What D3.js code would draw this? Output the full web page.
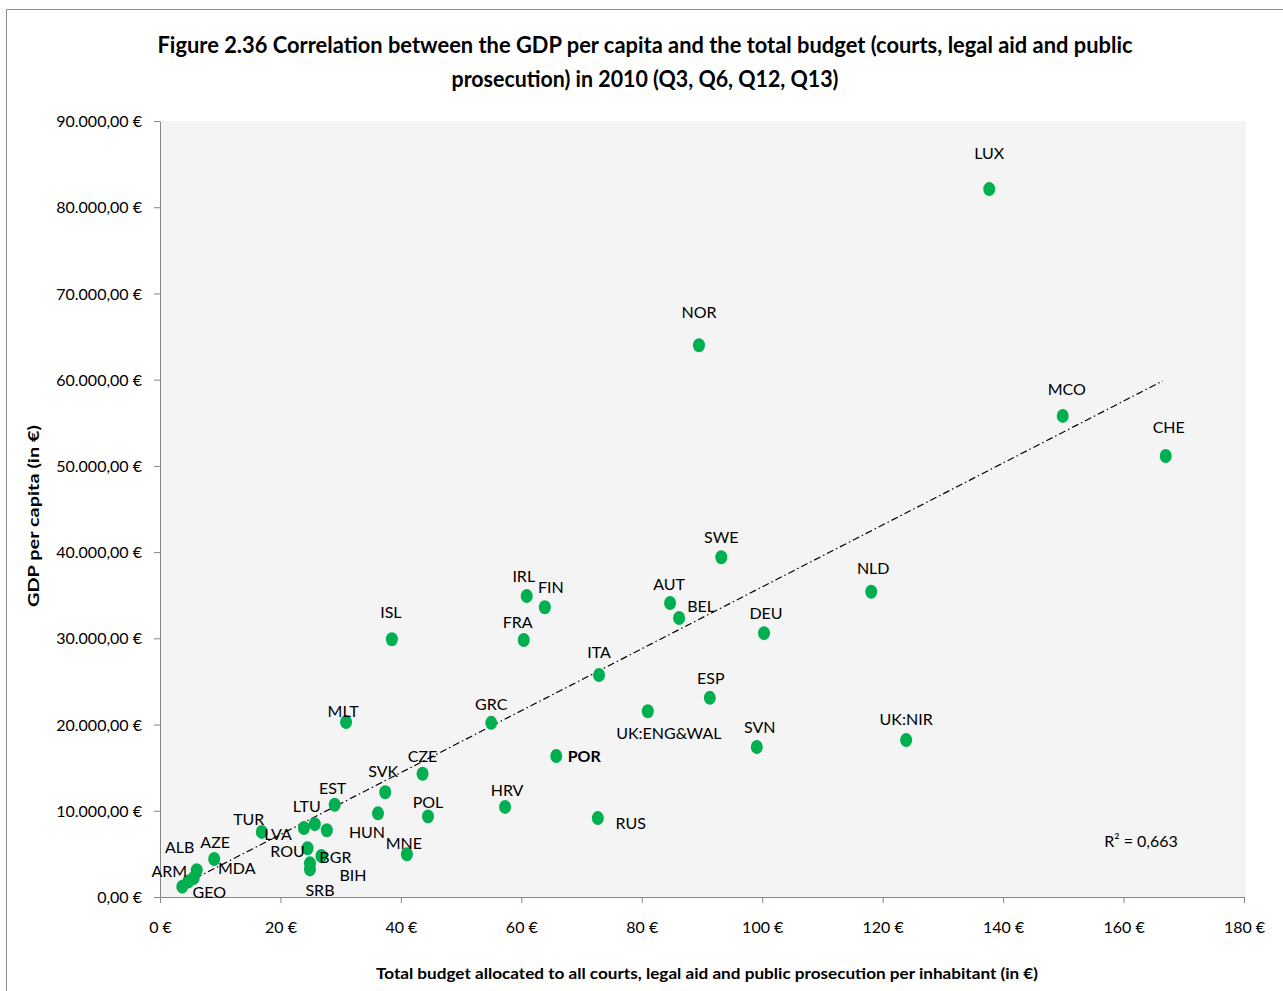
<!DOCTYPE html>
<html><head><meta charset="utf-8">
<script src="https://cdn.jsdelivr.net/npm/d3@7"></script>
<style>
html,body{margin:0;padding:0;background:#fff;}
svg text{font-family:Lato, "Liberation Sans", sans-serif;fill:#000;}
</style></head>
<body>
<svg id="chart" width="1283" height="991"></svg>
<script>
// ---- data ----
const countries = ["LUX","NOR","MCO","CHE","SWE","NLD","IRL","FIN","AUT","BEL","DEU","ISL","FRA","ITA","ESP","UK:ENG&WAL","GRC","MLT","UK:NIR","SVN","POR","CZE","SVK","EST","HRV","HUN","POL","RUS","LTU","LVA","","TUR","ROU","BGR","BIH","SRB","MNE","AZE","ALB","ARM","GEO","MDA"];
const budgetPerInhabitant = [137.7,89.5,149.9,167.0,93.2,118.1,60.9,63.9,84.7,86.2,100.3,38.5,60.4,72.9,91.3,81.0,55.0,30.9,123.9,99.1,65.8,43.6,37.4,29.0,57.3,36.2,44.5,72.7,25.7,23.9,27.7,16.9,24.5,26.8,24.9,24.9,41.0,9.0,5.6,3.7,4.7,6.1];
const gdpPerCapita = [82100,64000,55800,51150,39400,35400,34900,33600,34100,32350,30600,29900,29800,25750,23100,21550,20200,20300,18200,17400,16350,14300,12150,10700,10450,9700,9350,9150,8450,8000,7750,7550,5650,4750,3900,3200,4950,4400,2200,1200,1800,3100];
const trendX = [3.7,166.5];
const trendY = [1390,59850];
const rSquaredLabel = "R² = 0,663";
const xTicks = [0,20,40,60,80,100,120,140,160,180];
const yTicks = [0,10000,20000,30000,40000,50000,60000,70000,80000,90000];
const titleLines = ["Figure 2.36 Correlation  between the GDP per capita and the total budget (courts, legal aid and public","prosecution) in 2010 (Q3, Q6, Q12, Q13)"];
const xTitle = "Total budget allocated  to all courts, legal aid and public prosecution per inhabitant  (in €)";
const yTitle = "GDP per capita (in €)";

// ---- label offsets (layout) ----
const labelOffset = {
 "LUX":[0,-36],"NOR":[0,-33],"MCO":[4,-26],"CHE":[3,-29],"SWE":[0,-20],"NLD":[2,-23],
 "IRL":[-3,-20],"FIN":[6,-20],"AUT":[-1,-19],"BEL":[22,-12],"DEU":[2,-20],"ISL":[-1,-27],
 "FRA":[-6,-18],"ITA":[0,-23],"ESP":[1,-19],"UK:ENG&WAL":[21,22],"GRC":[0,-18],"MLT":[-3,-11],
 "UK:NIR":[0,-21],"SVN":[3,-20],"POR":[28,0],"CZE":[0,-17],"SVK":[-2,-21],"EST":[-2,-16],
 "HRV":[2,-16],"HUN":[-11,19],"POL":[0,-14],"RUS":[33,5],"LTU":[-8,-18],"LVA":[-26,6],
 "TUR":[-13,-13],"ROU":[-20,3],"BGR":[14,1],"BIH":[43,12],"SRB":[10,21],"MNE":[-3,-11],
 "AZE":[1,-17],"ALB":[-14,-31],"ARM":[-13,-15],"GEO":[21,11],"MDA":[40,-2]
};

const svg = d3.select("#chart");
const W = 1283, H = 991;
const plot = {left:160, right:1244, top:121, bottom:897};

const loc = d3.formatLocale({decimal:",", thousands:".", grouping:[3], currency:[""," €"]});
const fy = v => loc.format(",.2f")(v) + " €";
const fx = v => v + " €";

const x = d3.scaleLinear().domain([0,180]).range([plot.left, plot.right]);
const y = d3.scaleLinear().domain([0,90000]).range([plot.bottom, plot.top]);

// outer frame
svg.append("path").attr("d", `M6.5,${H} V9.5 H${W}`).attr("fill","none").attr("stroke","#8c8c8c").attr("stroke-width",1);

// plot background
svg.append("rect").attr("x",plot.left).attr("y",plot.top).attr("width",1246-plot.left).attr("height",plot.bottom-plot.top).attr("fill","#f4f4f4");

// titles
const tt = svg.append("g").attr("font-weight","bold").attr("font-size",22).attr("text-anchor","middle");
tt.append("text").attr("x",645).attr("y",53).attr("textLength",975).attr("lengthAdjust","spacingAndGlyphs").text(titleLines[0]);
tt.append("text").attr("x",645).attr("y",87).attr("textLength",387).attr("lengthAdjust","spacingAndGlyphs").text(titleLines[1]);

svg.append("text").attr("x",707).attr("y",979).attr("text-anchor","middle").attr("font-weight","bold").attr("font-size",16)
  .attr("textLength",662).attr("lengthAdjust","spacingAndGlyphs").text(xTitle);
svg.append("text").attr("transform","translate(39,516) rotate(-90)").attr("text-anchor","middle").attr("font-weight","bold").attr("font-size",15)
  .attr("textLength",182).attr("lengthAdjust","spacingAndGlyphs").text(yTitle);

// axes
const xAxis = d3.axisBottom(x).tickValues(xTicks).tickFormat(fx).tickSize(6).tickSizeOuter(0).tickPadding(19);
const yAxis = d3.axisLeft(y).tickValues(yTicks).tickFormat(fy).tickSize(6).tickSizeOuter(0).tickPadding(12);
const gx = svg.append("g").attr("transform",`translate(0,${plot.bottom})`).call(xAxis);
const gy = svg.append("g").attr("transform",`translate(${plot.left},0)`).call(yAxis);
[gx,gy].forEach(g=>{
  g.selectAll("path,line").attr("stroke","#868686");
  g.selectAll("text").attr("font-size",16).attr("fill","#000").style("font-family","Lato, 'Liberation Sans', sans-serif");
});
gy.selectAll("text").attr("dy","0.35em");

// trendline
svg.append("line")
  .attr("x1",x(trendX[0])).attr("y1",y(trendY[0])).attr("x2",x(trendX[1])).attr("y2",y(trendY[1]))
  .attr("stroke","#000").attr("stroke-width",1.2).attr("stroke-dasharray","7,3,1.5,3");

// points
const pts = countries.map((c,i)=>({c, bx:budgetPerInhabitant[i], g:gdpPerCapita[i]}));
svg.append("g").selectAll("ellipse").data(pts).join("ellipse")
  .attr("cx",d=>x(d.bx)).attr("cy",d=>y(d.g)).attr("rx",6).attr("ry",7).attr("fill","#00b050");

// labels
svg.append("g").selectAll("text").data(pts.filter(d=>d.c)).join("text")
  .attr("x",d=>x(d.bx)+(labelOffset[d.c]||[0,0])[0])
  .attr("y",d=>y(d.g)+(labelOffset[d.c]||[0,0])[1])
  .attr("dy","0.35em").attr("text-anchor","middle").attr("font-size",16)
  .attr("font-weight",d=>d.c==="POR"?"bold":"normal")
  .text(d=>d.c);

// R²
svg.append("text").attr("x",1141).attr("y",841).attr("dy","0.35em").attr("text-anchor","middle").attr("font-size",16).text(rSquaredLabel);
</script>
</body></html>
